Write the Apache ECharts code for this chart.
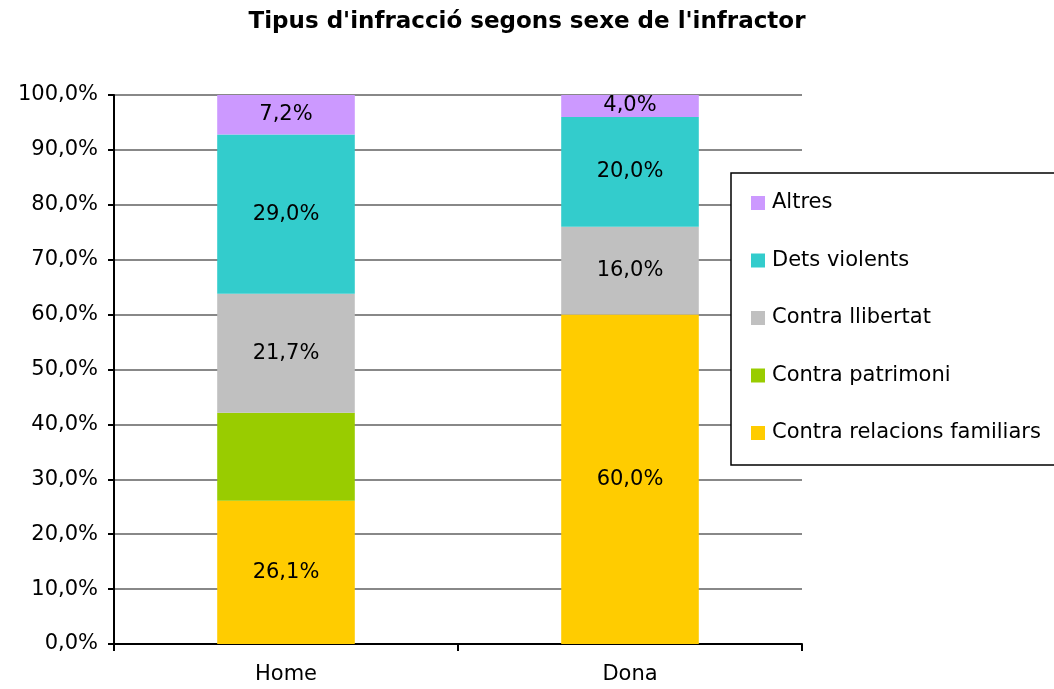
<!DOCTYPE html>
<html>
<head>
<meta charset="utf-8">
<script src="https://cdn.jsdelivr.net/npm/echarts@6/dist/echarts.min.js"></script>
<style>
  html, body { margin: 0; padding: 0; background: #fff; }
  #chart { width: 1054px; height: 689px; }
</style>
</head>
<body>
<div id="chart"></div>
<script>
// categories and series (percentages)
var categories = ["Home", "Dona"];
var relacionsFamiliars = [26.1, 60.0];
var patrimoni = [16.0, 0];
var llibertat = [21.7, 16.0];
var detsViolents = [29.0, 20.0];
var altres = [7.2, 4.0];
var legendOrder = ["Altres", "Dets violents", "Contra llibertat", "Contra patrimoni", "Contra relacions familiars"];

var font = "DejaVu Sans, Verdana, sans-serif";

function pct(v) {
  return v.toFixed(1).replace(".", ",") + "%";
}

var myChart = echarts.init(document.getElementById("chart"));

function makeSeries(name, data, color, showLabel) {
  return {
    name: name,
    type: "bar",
    stack: "total",
    barWidth: "40%",
    data: data,
    itemStyle: { color: color },
    label: {
      show: showLabel,
      position: "inside",
      color: "#000",
      fontFamily: font,
      fontSize: 21,
      formatter: function (p) {
        return p.value > 0 ? pct(p.value) : "";
      }
    }
  };
}

myChart.setOption({
  animation: false,
  title: {
    text: "Tipus d'infracció segons sexe de l'infractor",
    left: "center",
    top: 6,
    textStyle: { fontFamily: font, fontWeight: "bold", fontSize: 23, color: "#000" }
  },
  legend: {
    orient: "vertical",
    left: 731,
    top: 173,
    data: legendOrder,
    icon: "rect",
    itemWidth: 14,
    itemHeight: 14,
    itemGap: 35.5,
    padding: [19, 40, 21, 20],
    borderColor: "#000",
    borderWidth: 1.5,
    borderRadius: 0,
    backgroundColor: "#fff",
    textStyle: { fontFamily: font, fontSize: 21, color: "#000", lineHeight: 22, padding: [0, 0, 0, 2] }
  },
  grid: { left: 114, right: 252, top: 95, bottom: 45 },
  xAxis: {
    type: "category",
    data: categories,
    axisLine: { lineStyle: { color: "#000", width: 2 } },
    axisTick: { show: true, length: 7, interval: 0, lineStyle: { color: "#000", width: 2 } },
    axisLabel: { color: "#000", fontFamily: font, fontSize: 21, margin: 20 }
  },
  yAxis: {
    type: "value",
    min: 0,
    max: 100,
    interval: 10,
    axisLine: { show: true, lineStyle: { color: "#000", width: 2 } },
    axisTick: { show: true, length: 6, lineStyle: { color: "#000", width: 2 } },
    axisLabel: { color: "#000", fontFamily: font, fontSize: 21, margin: 16, formatter: pct },
    splitLine: { lineStyle: { color: "#888", width: 2 } }
  },
  series: [
    makeSeries("Contra relacions familiars", relacionsFamiliars, "#FFCC00", true),
    makeSeries("Contra patrimoni", patrimoni, "#99CC00", false),
    makeSeries("Contra llibertat", llibertat, "#C0C0C0", true),
    makeSeries("Dets violents", detsViolents, "#33CCCC", true),
    makeSeries("Altres", altres, "#CC99FF", true)
  ]
});
</script>
</body>
</html>
